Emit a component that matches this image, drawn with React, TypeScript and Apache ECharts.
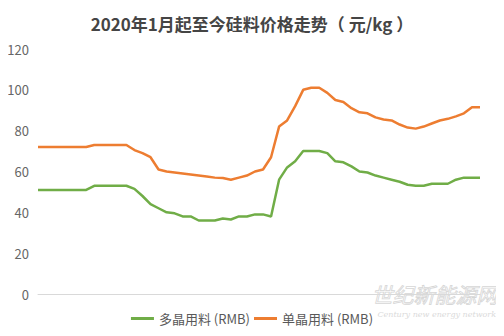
import React, { useEffect, useRef } from "react";
import * as echarts from "echarts";

const titleText = "2020年1月起至今硅料价格走势（ 元/kg ）";
const seriesNames = ["多晶用料 (RMB)", "单晶用料 (RMB)"];
const yTicks = [0, 20, 40, 60, 80, 100, 120];

const polyValues = [
  51, 51, 51, 51, 51, 51, 51, 53, 53, 53, 53, 53, 51.5, 48, 44, 42, 40, 39.5, 38, 38,
  36, 36, 36, 37, 36.5, 38, 38, 39, 39, 38, 56, 62, 65, 70, 70, 70, 69, 65, 64.5, 62.5,
  60, 59.5, 58, 57, 56, 55, 53.5, 53, 53, 54, 54, 54, 56, 57, 57, 57,
];
const monoValues = [
  72, 72, 72, 72, 72, 72, 72, 73, 73, 73, 73, 73, 70.5, 69, 67, 61, 60, 59.5, 59, 58.5,
  58, 57.5, 57, 56.8, 56, 57, 58, 60, 61, 67, 82, 85, 92, 100, 101, 101, 98.5, 95, 94, 91,
  89, 88.5, 86.5, 85.5, 85, 83, 81.5, 81, 82, 83.5, 85, 85.8, 87, 88.5, 91.5, 91.5,
];
const categories = polyValues.map((_, i) => "W" + (i + 1));

export default function App() {
  const ref = useRef<HTMLDivElement>(null);
  useEffect(() => {
    if (!ref.current) return;
    const chart = echarts.init(ref.current, undefined, { renderer: "svg" });
    chart.setOption({
      animation: false,
      backgroundColor: "#ffffff",
      title: {
        text: titleText,
        left: "center",
        top: 10,
        textStyle: {
          fontFamily: "Noto Sans CJK SC",
          fontSize: 17,
          fontWeight: "bold",
          color: "#454545",
        },
      },
      legend: {
        data: seriesNames,
        bottom: 6,
        left: "center",
        icon: "rect",
        itemWidth: 23,
        itemHeight: 3,
        itemGap: 4,
        textStyle: { fontFamily: "Noto Sans CJK SC", fontSize: 13, color: "#595959" },
      },
      grid: { left: 38, right: 24, top: 49, bottom: 42, containLabel: false },
      xAxis: {
        type: "category",
        data: categories,
        boundaryGap: false,
        axisLine: { show: true, lineStyle: { color: "#d9d9d9" } },
        axisTick: { show: false },
        axisLabel: { show: false },
      },
      yAxis: {
        type: "value",
        min: yTicks[0],
        max: yTicks[yTicks.length - 1],
        interval: 20,
        axisLine: { show: false },
        axisTick: { show: false },
        splitLine: { show: false },
        axisLabel: {
          fontFamily: "Noto Sans CJK SC",
          fontSize: 13,
          color: "#666666",
          margin: 9,
        },
      },
      graphic: [
        {
          type: "text",
          right: 6,
          top: 283,
          z: -1,
          style: {
            text: "世纪新能源网",
            fontFamily: "Noto Sans CJK SC",
            fontSize: 21,
            fontStyle: "italic",
            fill: "rgba(255,255,255,0)",
            stroke: "#d6d6d6",
            lineWidth: 0.8,
          },
        },
        {
          type: "text",
          right: 8,
          top: 310,
          z: -1,
          style: {
            text: "Century new energy network",
            fontFamily: "DejaVu Serif",
            fontSize: 8,
            fontStyle: "italic",
            fill: "#dadada",
          },
        },
      ],
      series: [
        {
          name: seriesNames[0],
          type: "line",
          data: polyValues,
          showSymbol: false,
          symbol: "none",
          lineStyle: { color: "#70AD47", width: 2.5 },
          itemStyle: { color: "#70AD47" },
        },
        {
          name: seriesNames[1],
          type: "line",
          data: monoValues,
          showSymbol: false,
          symbol: "none",
          lineStyle: { color: "#ED7D31", width: 2.5 },
          itemStyle: { color: "#ED7D31" },
        },
      ],
    });
    return () => chart.dispose();
  }, []);
  return <div ref={ref} style={{ width: 504, height: 336, margin: -8 }} />;
}
